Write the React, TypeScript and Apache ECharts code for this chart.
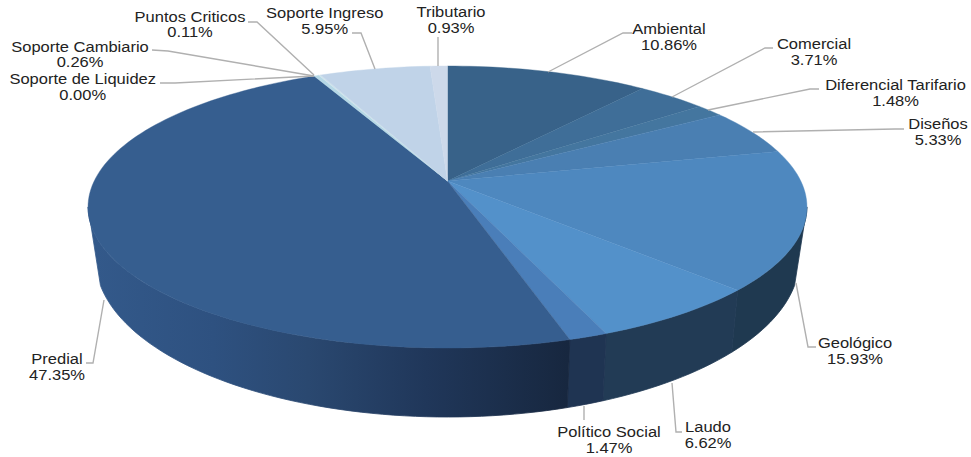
import React, { useEffect, useRef } from "react";
import * as echarts from "echarts";

const categories = [
  "Ambiental", "Comercial", "Diferencial Tarifario", "Diseños", "Geológico", "Laudo",
  "Político Social", "Predial", "Soporte de Liquidez", "Soporte Cambiario",
  "Puntos Criticos", "Soporte Ingreso", "Tributario",
];
const shares = [10.86, 3.71, 1.48, 5.33, 15.93, 6.62, 1.47, 47.35, 0.0, 0.26, 0.11, 5.95, 0.93];

const topColors = [
  "#386289", "#3f6e98", "#44769f", "#4a7fb2", "#4e88bf", "#5391ca", "#4a7eb9",
  "#365e8f", "#9fc4dc", "#b5d8e6", "#cfe3ec", "#c0d3e8", "#cdd9ea",
];
const sideColors = [
  "#263f5c", "#263f5c", "#263f5c", "#233c56", "#1f3950", "#223b55", "#1f3452",
  "#1f3452", "#8aa0b8", "#8aa0b8", "#8aa0b8", "#8aa0b8", "#8aa0b8",
];
const predialSideStops = [
  { offset: 0, color: "#33598a" },
  { offset: 0.25, color: "#2e5180" },
  { offset: 0.45, color: "#2a4870" },
  { offset: 0.7, color: "#20375a" },
  { offset: 1, color: "#17273f" },
];

// label centre x, first line y, second line y
const labelLayout = [
  [669, 29, 45], [814, 44, 60], [895.5, 85, 101], [938, 124, 140], [855, 343, 359],
  [708, 427, 443], [609, 432, 448], [57, 359, 375], [82.7, 79, 95], [80, 47, 62],
  [190, 17, 32], [324.7, 13, 29], [451, 12, 28],
];
// leader polylines, from the pie's edge to the label
const leaderLayout = [
  [[548, 72], [623, 33], [632, 33]],
  [[672, 97], [765, 48], [773, 48]],
  [[708, 110], [810, 89], [819, 89]],
  [[753, 132], [895, 129], [904, 129]],
  [[796, 283], [808, 347], [816, 347]],
  [[672, 383], [676, 432], [682, 432]],
  [[584, 406], [584, 420]],
  [[104, 300], [93, 363], [86, 363]],
  [[314, 76], [175, 83], [160, 83]],
  [[314, 76], [168, 51], [152, 50]],
  [[314, 75], [257, 22], [248, 22]],
  [[375, 69], [361, 33], [352, 33]],
  [[438, 66], [438, 37]],
];

// Perspective projection of the pie's top and bottom discs
const CX = 447.5;
const P = 0.1844;
const TOP = { a: 353.3, b: 136.2, y0: 181 };
const BOTTOM = { a: 346, b: 152.6, y0: 229.9 };
// angles where each disc's rim meets the straight outline of the wall
const TOP_TANGENT = [100.6, 259.4];
const BOTTOM_TANGENT = [110, 250];

const project = (disc: { a: number; b: number; y0: number }, deg: number) => {
  const t = (deg * Math.PI) / 180;
  const u = Math.sin(t);
  const v = -Math.cos(t);
  const d = 1 - P * v;
  return [CX + (disc.a * u) / d, disc.y0 + (disc.b * v) / d];
};

const arc = (disc: { a: number; b: number; y0: number }, from: number, to: number) => {
  const n = Math.max(2, Math.ceil(Math.abs(to - from) / 1.5));
  const pts: number[][] = [];
  for (let i = 0; i <= n; i++) pts.push(project(disc, from + ((to - from) * i) / n));
  return pts;
};

const total = shares.reduce((s, v) => s + v, 0);
const angleRange = (index: number) => {
  let start = 0;
  for (let i = 0; i < index; i++) start += shares[i];
  return [(start / total) * 360, ((start + shares[index]) / total) * 360];
};

const seriesData = categories.map((c, i) => ({ name: c, value: [i, shares[i]] }));
const FONT = "'Liberation Sans', Arial, sans-serif";
const TEXT_STRETCH = 1.1;

const renderSide = (params: any) => {
  const i = params.dataIndex;
  const [a0, a1] = angleRange(i);
  const topFrom = Math.max(a0, TOP_TANGENT[0]);
  const topTo = Math.min(a1, TOP_TANGENT[1]);
  const botFrom = Math.max(a0, BOTTOM_TANGENT[0]);
  const botTo = Math.min(a1, BOTTOM_TANGENT[1]);
  if (topTo <= topFrom || botTo <= botFrom) return { type: "group", children: [] };
  const points = [...arc(TOP, topFrom, topTo), ...arc(BOTTOM, botTo, botFrom)];
  const fill =
    categories[i] === "Predial"
      ? { type: "linear", x: 95, y: 0, x2: 568, y2: 0, global: true, colorStops: predialSideStops }
      : sideColors[i];
  return {
    type: "polygon",
    shape: { points },
    style: { fill, stroke: fill, lineWidth: 0.8 },
  };
};

const renderTop = (params: any) => {
  const i = params.dataIndex;
  const [a0, a1] = angleRange(i);
  if (a1 <= a0) return { type: "group", children: [] };
  const apex = [CX, TOP.y0];
  return {
    type: "polygon",
    shape: { points: [apex, ...arc(TOP, a0, a1)] },
    style: { fill: topColors[i], stroke: topColors[i], lineWidth: 0.4 },
  };
};

const textEl = (text: string, x: number, y: number) => ({
  type: "text",
  x,
  y,
  scaleX: TEXT_STRETCH,
  style: {
    text,
    x: 0,
    y: 0,
    align: "center",
    verticalAlign: "middle",
    fontFamily: FONT,
    fontSize: 15,
    fill: "#222222",
  },
});

const renderLabel = (params: any) => {
  const i = params.dataIndex;
  const [x, y1, y2] = labelLayout[i];
  return {
    type: "group",
    children: [
      {
        type: "polyline",
        shape: { points: leaderLayout[i] },
        style: { fill: "none", stroke: "#b0b0b0", lineWidth: 1.4 },
      },
      textEl(categories[i], x, y1),
      textEl(`${shares[i].toFixed(2)}%`, x, y2),
    ],
  };
};

export default function App() {
  const ref = useRef<HTMLDivElement>(null);
  useEffect(() => {
    const chart = echarts.init(ref.current!, undefined, { renderer: "svg" });
    chart.setOption({
      animation: false,
      backgroundColor: "#ffffff",
      series: [
        { type: "custom", coordinateSystem: "none", z: 1, silent: true, data: seriesData, renderItem: renderSide },
        { type: "custom", coordinateSystem: "none", z: 2, silent: true, data: seriesData, renderItem: renderTop },
        { type: "custom", coordinateSystem: "none", z: 3, silent: true, data: seriesData, renderItem: renderLabel },
      ],
    });
    return () => chart.dispose();
  }, []);
  return <div ref={ref} style={{ position: "absolute", left: 0, top: 0, width: 971, height: 457 }} />;
}
